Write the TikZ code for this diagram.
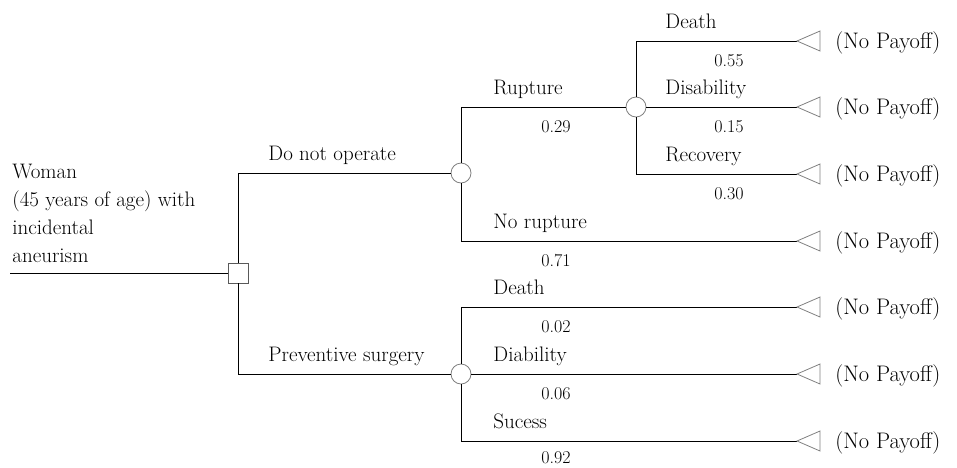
\documentclass[tikz,border=0pt]{standalone}
\usepackage{fontspec}
\usetikzlibrary{positioning}

\tikzset{
  decision/.style={draw=black!65, rectangle, minimum size=20pt, inner sep=0pt, fill=white},
  chance/.style={draw=black!50, circle, minimum size=20pt, inner sep=0pt, fill=white},
  branch/.style={font=\fontsize{21}{25}\selectfont, anchor=base west, inner sep=0pt},
  prob/.style={font=\fontsize{18}{22}\selectfont, anchor=base, inner sep=0pt},
  payoff/.style={draw=black!50},
  payofftext/.style={font=\fontsize{22.5}{26}\selectfont, anchor=west, inner sep=0pt},
}

\begin{document}
\begin{tikzpicture}[x=1pt, y=-1pt, line width=0.8pt]
  \useasboundingbox (0,0) rectangle (957,467);

  % nodes of the tree
  \coordinate (start) at (10,273);
  \node[decision] (root) at (238,273) {};
  \node[chance] (dno) at (461,173) {};
  \node[chance] (rup) at (636,107) {};
  \node[chance] (surg) at (461,374) {};

  \coordinate (t1) at (797,41);
  \coordinate (t2) at (797,107);
  \coordinate (t3) at (797,174);
  \coordinate (t4) at (797,241);
  \coordinate (t5) at (797,307);
  \coordinate (t6) at (797,374);
  \coordinate (t7) at (797,441);

  % branches
  \draw (start) -- (root);
  \draw (root) |- (dno);
  \draw (root) |- (surg);
  \draw (dno) |- (rup);
  \draw (dno) |- (t4);
  \draw (rup) |- (t1);
  \draw (rup) -- (t2);
  \draw (rup) |- (t3);
  \draw (surg) |- (t5);
  \draw (surg) -- (t6);
  \draw (surg) |- (t7);

  % terminal nodes
  \foreach \t in {t1,t2,t3,t4,t5,t6,t7} {
    \draw[payoff] (\t) -- ++(23,-10) -- ++(0,20) -- cycle;
    \node[payofftext] (p\t) at ([xshift=38pt,yshift=-2pt]\t) {(No Payoff)};
  }

  % root text
  \node[font=\fontsize{21}{28}\selectfont, align=left, anchor=north west, inner sep=0pt]
    (woman) at (12,164) {Woman\\(45 years of age) with\\incidental\\aneurism};

  % branch labels
  \node[branch] (lDno) at (268,160) {Do not operate};
  \node[branch] (lSurg) at (268,361) {Preventive surgery};

  \node[branch] (lRup) at (493,94) {Rupture};
  \node[prob] (pRup) at (556,132) {0.29};
  \node[branch] (lNoRup) at (493,228) {No rupture};
  \node[prob] (pNoRup) at (556,266) {0.71};

  \node[branch] (lDeathA) at (665,28) {Death};
  \node[prob] (pDeathA) at (729,66) {0.55};
  \node[branch] (lDisA) at (665,94) {Disability};
  \node[prob] (pDisA) at (729,132) {0.15};
  \node[branch] (lRec) at (665,161) {Recovery};
  \node[prob] (pRec) at (729,199) {0.30};

  \node[branch] (lDeathB) at (493,294) {Death};
  \node[prob] (pDeathB) at (556,332) {0.02};
  \node[branch] (lDisB) at (493,361) {Diability};
  \node[prob] (pDisB) at (556,399) {0.06};
  \node[branch] (lSuc) at (493,428) {Sucess};
  \node[prob] (pSuc) at (556,463) {0.92};
\end{tikzpicture}
\end{document}
